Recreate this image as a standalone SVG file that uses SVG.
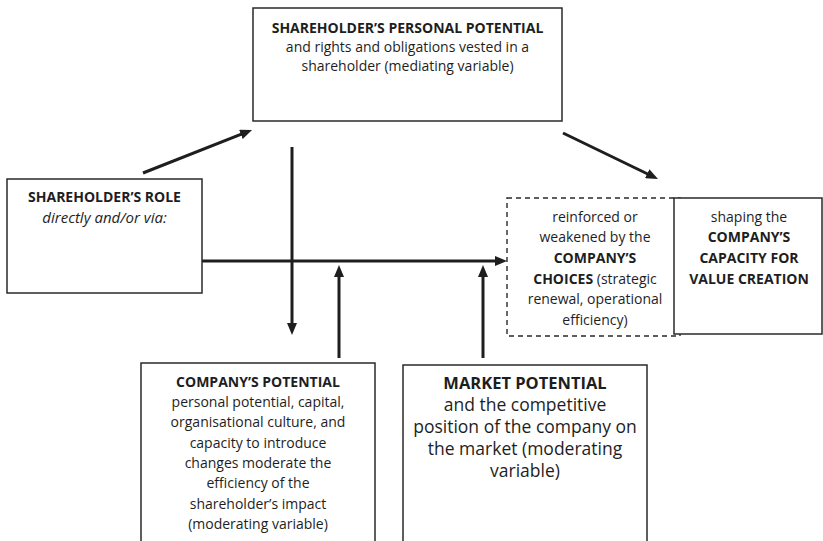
<svg xmlns="http://www.w3.org/2000/svg" width="823" height="541" viewBox="0 0 823 541">
<style>
  .box { fill: #fff; stroke: #2a2a2a; stroke-width: 1.5; }
  .dash { fill: #fff; stroke: #2a2a2a; stroke-width: 1.4; stroke-dasharray: 5 4; }
  .conn { stroke: #1e1e1e; stroke-width: 3; fill: none; marker-end: url(#ah); }
  text { font-family: "Open Sans", "Noto Sans", sans-serif; font-size: 14px; fill: #1e1e1e; text-anchor: middle; }
  .b { font-weight: bold; }
  .i { font-style: italic; font-size: 15px; }
  .big { font-size: 17.5px; }
  .bigb { font-size: 16.5px; font-weight: bold; }
</style>
<defs>
  <marker id="ah" markerUnits="userSpaceOnUse" markerWidth="12" markerHeight="10" refX="4" refY="5" orient="auto">
    <path d="M0,0 L12,5 L0,10 z" fill="#1e1e1e"/>
  </marker>
</defs>

<g id="connectors">
  <line class="conn" x1="143" y1="173" x2="244.6" y2="132.9"/>
  <line class="conn" x1="563" y1="133" x2="650.8" y2="175.5"/>
  <line class="conn" x1="292" y1="147" x2="292" y2="327"/>
  <line class="conn" x1="202" y1="261" x2="499" y2="261"/>
  <line class="conn" x1="339" y1="358" x2="339" y2="273"/>
  <line class="conn" x1="483" y1="358" x2="483" y2="273"/>
</g>

<g id="personal-potential">
  <rect class="box" x="253" y="8" width="309" height="113"/>
  <text x="407.5" y="33" class="b">SHAREHOLDER’S PERSONAL POTENTIAL</text>
  <text x="407.5" y="52">and rights and obligations vested in a</text>
  <text x="407.5" y="71">shareholder (mediating variable)</text>
</g>

<g id="shareholder-role">
  <rect class="box" x="7" y="179" width="195" height="114"/>
  <text x="104.5" y="202" class="b">SHAREHOLDER’S ROLE</text>
  <text x="104.5" y="223" class="i">directly and/or via:</text>
</g>

<g id="company-choices">
  <rect class="dash" x="507" y="198" width="173" height="138"/>
  <text x="595" y="222">reinforced or</text>
  <text x="595" y="242">weakened by the</text>
  <text x="595" y="263" class="b">COMPANY’S</text>
  <text x="595" y="284"><tspan class="b">CHOICES</tspan> (strategic</text>
  <text x="595" y="304">renewal, operational</text>
  <text x="595" y="325">efficiency)</text>
</g>

<g id="value-creation">
  <rect class="box" x="674" y="198" width="148" height="136"/>
  <text x="749" y="222">shaping the</text>
  <text x="749" y="242" class="b">COMPANY’S</text>
  <text x="749" y="263" class="b">CAPACITY FOR</text>
  <text x="749" y="284" class="b">VALUE CREATION</text>
</g>

<g id="company-potential">
  <rect class="box" x="141" y="363" width="234" height="190"/>
  <text x="258" y="387" class="b">COMPANY’S POTENTIAL</text>
  <text x="258" y="407">personal potential, capital,</text>
  <text x="258" y="427">organisational culture, and</text>
  <text x="258" y="448">capacity to introduce</text>
  <text x="258" y="468">changes moderate the</text>
  <text x="258" y="488">efficiency of the</text>
  <text x="258" y="509">shareholder’s impact</text>
  <text x="258" y="529">(moderating variable)</text>
</g>

<g id="market-potential">
  <rect class="box" x="403" y="365" width="244" height="190"/>
  <text x="525" y="389" class="bigb">MARKET POTENTIAL</text>
  <text x="525" y="411" class="big">and the competitive</text>
  <text x="525" y="433" class="big">position of the company on</text>
  <text x="525" y="455" class="big">the market (moderating</text>
  <text x="525" y="477" class="big">variable)</text>
</g>
</svg>
